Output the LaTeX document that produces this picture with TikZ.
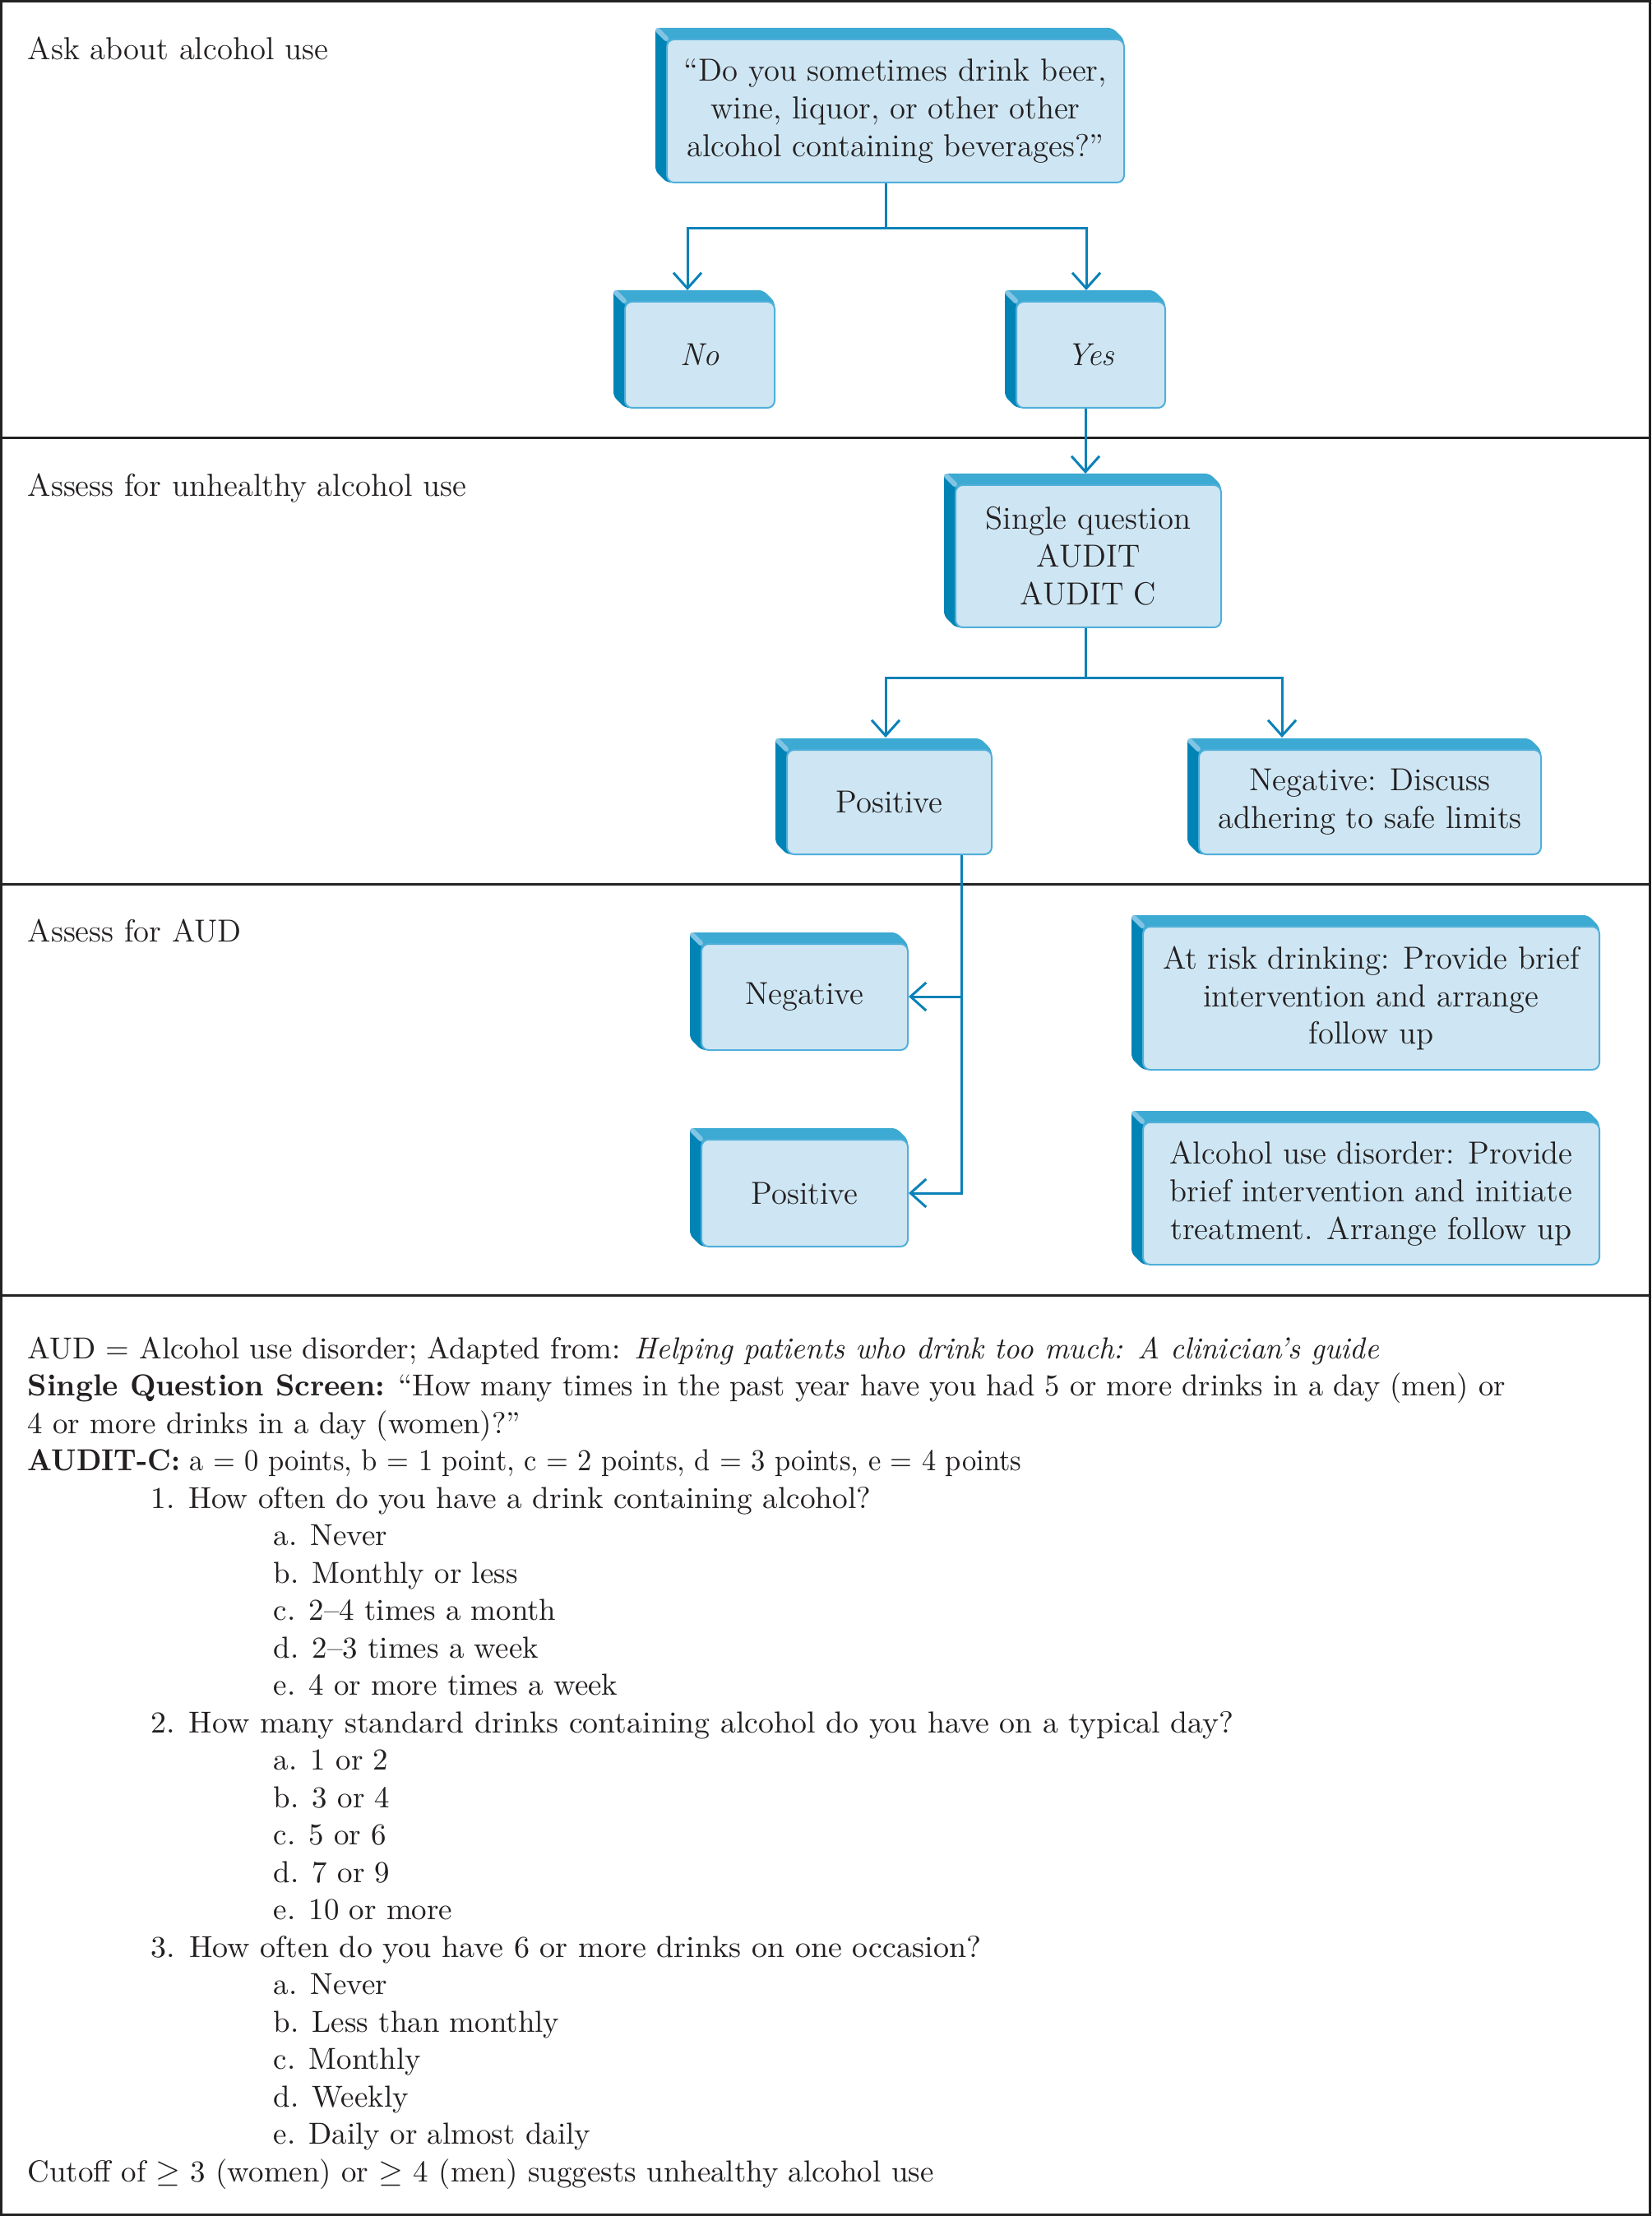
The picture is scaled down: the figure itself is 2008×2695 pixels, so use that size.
\documentclass[tikz,border=0pt]{standalone}
\usepackage{fontspec}
\usepackage{graphicx}
\usetikzlibrary{arrows.meta}
\definecolor{frontc}{RGB}{206,230,243}
\definecolor{edgec}{RGB}{80,175,218}
\definecolor{topc}{RGB}{60,170,210}
\definecolor{leftc}{RGB}{0,132,182}
\definecolor{hlc}{RGB}{130,196,228}
\definecolor{linec}{RGB}{10,130,184}
\definecolor{inkc}{RGB}{35,31,32}
\definecolor{rulec}{RGB}{35,35,35}
\tikzset{
 front/.style={draw=edgec, line width=0.02cm, fill=frontc, rounded corners=2.5pt, inner sep=0pt, align=center, text=inkc, font=\fontsize{11}{13}\selectfont},
 conn/.style={draw=linec, line width=0.03cm},
 arr/.style={conn, -{Straight Barb[length=0.19cm,width=0.34cm]}},
 rulel/.style={draw=rulec, line width=0.03cm},
 lbl/.style={anchor=base west, inner sep=0pt, text=inkc, font=\fontsize{11}{13}\selectfont},
 ftext/.style={anchor=base west, inner sep=0pt, text=inkc, font=\fontsize{10.5}{13}\selectfont},
}
\newcommand{\cubebox}[6]{%
 \fill[leftc, rounded corners=1.5pt] (#2+10,#3) -- (#2,#3) -- (#2-14,#3-14) -- (#2-14,#5-14) -- (#2,#5) -- (#2+10,#5) -- cycle;
 \fill[topc, rounded corners=1.5pt] (#2,#3+10) -- (#2,#3) -- (#2-14,#3-14) -- (#4-14,#3-14) -- (#4,#3) -- (#4,#3+10) -- cycle;
 \draw[hlc, line width=0.06cm, line cap=round] (#2-11,#3-11) -- (#2-1,#3-1);
 \node[front, minimum width={(#4-#2)*0.01cm}, minimum height={(#5-#3)*0.01cm}] (#1) at ({(#2+#4)/2},{(#3+#5)/2}) {#6};
}
\newcommand{\strline}[2]{\scalebox{#1}[1]{#2}}
\begin{document}
\begin{tikzpicture}[x=0.01cm, y=-0.01cm]
\useasboundingbox (0,0) rectangle (2008,2695);
\fill[white] (0,0) rectangle (2008,2695);
% frame and dividers
\draw[rulel] (1.5,1.5) rectangle (2006.5,2693.5);
\coordinate (r1l) at (0,533); \coordinate (r1r) at (2008,533);
\coordinate (r2l) at (0,1075); \coordinate (r2r) at (2008,1075);
\coordinate (r3l) at (0,1575); \coordinate (r3r) at (2008,1575);
\draw[rulel] (r1l) -- (r1r);
\draw[rulel] (r2l) -- (r2r);
\draw[rulel] (r3l) -- (r3r);
% section labels
\node[lbl] (s1) at (33,73) {Ask about alcohol use};
\node[lbl] (s2) at (33,604) {Assess for unhealthy alcohol use};
\node[lbl] (s3) at (33,1145) {Assess for AUD};
% boxes
\cubebox{q}{811}{48}{1367}{222}{“Do you sometimes drink beer,\\wine, liquor, or other other\\alcohol containing beverages?”}
\cubebox{no}{760}{367}{942}{496}{\textit{No}}
\cubebox{yes}{1236}{367}{1417}{496}{\textit{Yes}}
\cubebox{sq}{1162}{590}{1485}{763}{Single question\\AUDIT\\AUDIT C}
\cubebox{pos}{957}{912}{1206}{1039}{Positive}
\cubebox{neg}{1458}{912}{1874}{1039}{Negative: Discuss\\adhering to safe limits}
\cubebox{negb}{853}{1148}{1104}{1277}{Negative}
\cubebox{posb}{853}{1386}{1104}{1516}{Positive}
\cubebox{risk}{1390}{1127}{1945}{1301}{At risk drinking: Provide brief\\intervention and arrange\\follow up}
\cubebox{aud}{1390}{1365}{1945}{1538}{Alcohol use disorder: Provide\\brief intervention and initiate\\treatment. Arrange follow up}
% connectors
\coordinate (j1) at (1077,278);
\coordinate (aNo) at (836,353);
\coordinate (aYes) at (1321,353);
\draw[conn] (q.south -| j1) -- (j1);
\draw[arr] (j1) -| (aNo);
\draw[arr] (j1) -| (aYes);
\coordinate (aSQ) at (1320,576);
\draw[arr] (aSQ |- yes.south) -- (aSQ);
\coordinate (j2) at (1320,825);
\coordinate (aPos) at (1077,897);
\coordinate (aNeg) at (1559,897);
\draw[conn] (sq.south -| j2) -- (j2);
\draw[arr] (j2) -| (aPos);
\draw[arr] (j2) -| (aNeg);
\coordinate (v1) at (1169,1212);
\draw[arr] (pos.south -| v1) |- (posb.east);
\draw[arr] (v1) -- (negb.east |- v1);
% footnote text
\node[ftext] (t0) at (33,1652) {AUD = Alcohol use disorder; Adapted from: \strline{0.985}{\textit{Helping patients who drink too much: A clinician’s guide}}};
\node[ftext] (t1) at (33,1697.5) {\strline{0.99}{\textbf{Single Question Screen:} “How many times in the past year have you had 5 or more drinks in a day (men) or}};
\node[ftext] (t2) at (33,1743) {4 or more drinks in a day (women)?”};
\node[ftext] (t3) at (33,1788.5) {\strline{0.935}{\textbf{AUDIT-C:} a = 0 points, b = 1 point, c = 2 points, d = 3 points, e = 4 points}};
\node[ftext] (t4) at (183,1834) {\strline{1.01}{1. How often do you have a drink containing alcohol?}};
\node[ftext] (t5) at (332,1879.5) {a. Never};
\node[ftext] (t6) at (332,1925) {b. Monthly or less};
\node[ftext] (t7) at (332,1970.5) {c. 2–4 times a month};
\node[ftext] (t8) at (332,2016) {d. 2–3 times a week};
\node[ftext] (t9) at (332,2061.5) {e. 4 or more times a week};
\node[ftext] (t10) at (183,2107) {\strline{1.025}{2. How many standard drinks containing alcohol do you have on a typical day?}};
\node[ftext] (t11) at (332,2152.5) {a. 1 or 2};
\node[ftext] (t12) at (332,2198) {b. 3 or 4};
\node[ftext] (t13) at (332,2243.5) {c. 5 or 6};
\node[ftext] (t14) at (332,2289) {d. 7 or 9};
\node[ftext] (t15) at (332,2334.5) {e. 10 or more};
\node[ftext] (t16) at (183,2380) {\strline{1.03}{3. How often do you have 6 or more drinks on one occasion?}};
\node[ftext] (t17) at (332,2425.5) {a. Never};
\node[ftext] (t18) at (332,2471) {b. Less than monthly};
\node[ftext] (t19) at (332,2516.5) {c. Monthly};
\node[ftext] (t20) at (332,2562) {d. Weekly};
\node[ftext] (t21) at (332,2607.5) {e. Daily or almost daily};
\node[ftext] (t22) at (33,2653) {Cutoff of $\geq$ 3 (women) or $\geq$ 4 (men) suggests unhealthy alcohol use};
\end{tikzpicture}
\end{document}
